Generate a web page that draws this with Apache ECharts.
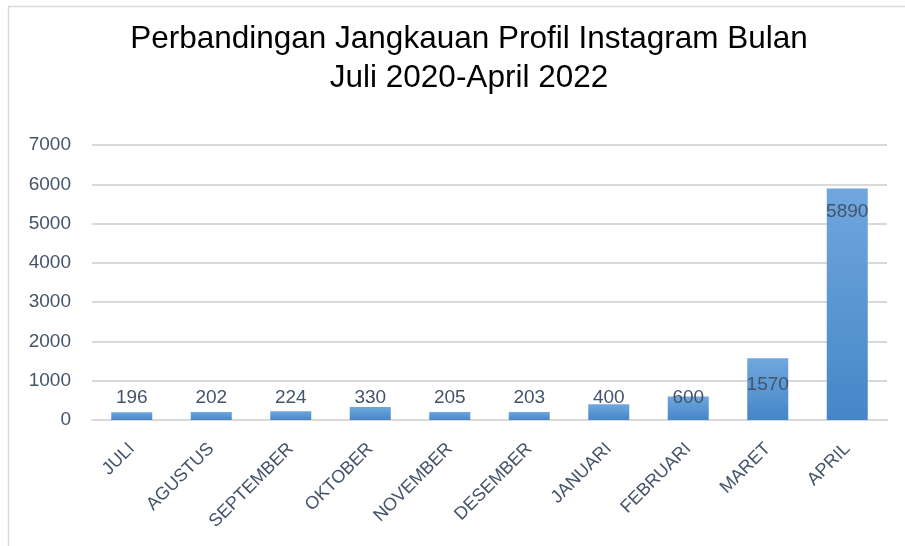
<!DOCTYPE html>
<html>
<head>
<meta charset="utf-8">
<script src="https://cdn.jsdelivr.net/npm/echarts@6/dist/echarts.min.js"></script>
<style>
html,body{margin:0;padding:0;background:#fff}
#main{width:905px;height:546px}
</style>
</head>
<body>
<div id="main"></div>
<script>
var bulan = ['JULI','AGUSTUS','SEPTEMBER','OKTOBER','NOVEMBER','DESEMBER','JANUARI','FEBRUARI','MARET','APRIL']
var jangkauan = [196,202,224,330,205,203,400,600,1570,5890]
var yTicks = [0,1000,2000,3000,4000,5000,6000,7000]

var chart = echarts.init(document.getElementById('main'))
var textColor = '#44546a'
var font = 'Liberation Sans'

// label: yang kecil sejajar di bawah, yang besar di dalam batang
var barData = jangkauan.map(function(v){
	var lbl = {}
	if(v > 3000){
		lbl = {position:'insideTop', distance:14}
	}else if(v > 1000){
		lbl = {position:'insideTop', distance:17}
	}else{
		lbl = {position:'insideBottom', distance:13}
	}
	return {value:v, label:lbl}
})

var option = {
	animation:false,
	title:{
		text:'Perbandingan Jangkauan Profil Instagram Bulan\nJuli 2020-April 2022',
		left:464,
		top:15,
		textAlign:'center',
		textStyle:{fontFamily:font, fontWeight:'normal', fontSize:31.5, color:'#000', lineHeight:39}
	},
	graphic:[{
		type:'rect',
		shape:{x:8.5, y:6.5, width:1000, height:1000},
		style:{fill:'none', stroke:'#d9d9d9', lineWidth:1.5}
	}],
	grid:{left:92, right:18, top:145, bottom:126},
	xAxis:{
		type:'category',
		data:bulan,
		axisTick:{show:false},
		axisLine:{lineStyle:{color:'#d9d9d9', width:2}},
		axisLabel:{rotate:45, color:textColor, fontFamily:font, fontSize:18, margin:26, interval:0}
	},
	yAxis:{
		type:'value',
		min:yTicks[0],
		max:yTicks[yTicks.length-1],
		interval:1000,
		axisLine:{show:false},
		axisTick:{show:false},
		splitLine:{lineStyle:{color:'#d9d9d9', width:2}},
		axisLabel:{color:textColor, fontFamily:font, fontSize:19, margin:21, formatter:function(v){return String(v)}}
	},
	series:[{
		type:'bar',
		data:barData,
		barWidth:41,
		itemStyle:{
			color:new echarts.graphic.LinearGradient(0,0,0,1,[
				{offset:0, color:'#6fa7dd'},
				{offset:1, color:'#4686c8'}
			])
		},
		label:{show:true, color:textColor, fontFamily:font, fontSize:19}
	}]
}
chart.setOption(option)
</script>
</body>
</html>
